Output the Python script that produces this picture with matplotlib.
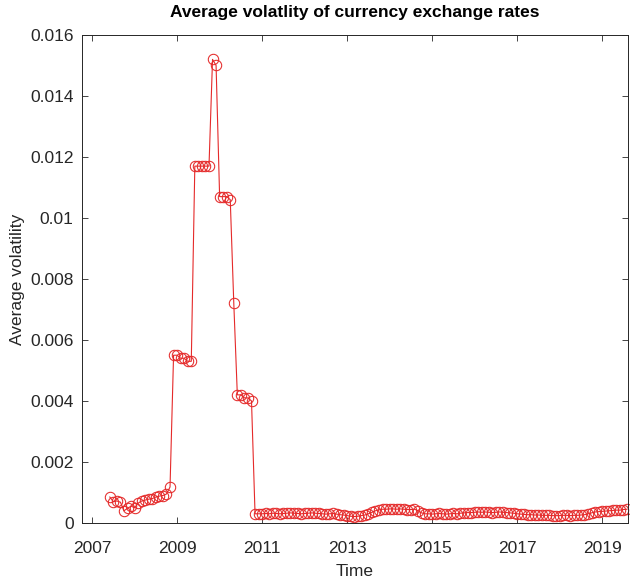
import matplotlib.pyplot as plt
import numpy as np

# monthly average volatility, starting June 2007
start_year = 2007 + 5 / 12
vol_2007_2010 = [
    0.00085, 0.00070, 0.00072, 0.00068, 0.00040, 0.00048, 0.00055,  # Jun-Dec 07
    0.00050, 0.00065, 0.00072, 0.00075, 0.00078, 0.00080, 0.00085,
    0.00088, 0.00090, 0.00095, 0.00118, 0.0055,                       # 2008
    0.0055, 0.0054, 0.0054, 0.0053, 0.0053, 0.0117, 0.0117, 0.0117,
    0.0117, 0.0117, 0.0152, 0.0150,                                   # 2009
    0.0107, 0.0107, 0.0107, 0.0106, 0.0072, 0.0042, 0.0042, 0.0041,
    0.0041, 0.0040, 0.00030, 0.00030,                                 # 2010
]
vol_2011 = [0.00030, 0.00031, 0.00030, 0.00032, 0.00031, 0.00030,
            0.00031, 0.00032, 0.00033, 0.00032, 0.00031, 0.00030]
vol_2012 = [0.00031, 0.00032, 0.00033, 0.00032, 0.00031, 0.00030,
            0.00029, 0.00030, 0.00031, 0.00029, 0.00027, 0.00026]
vol_2013 = [0.00024, 0.00022, 0.00021, 0.00022, 0.00024, 0.00026,
            0.00030, 0.00035, 0.00040, 0.00043, 0.00045, 0.00045]
vol_2014 = [0.00046, 0.00046, 0.00045, 0.00046, 0.00045, 0.00044,
            0.00044, 0.00045, 0.00040, 0.00033, 0.00030, 0.00030]
vol_2015 = [0.00029, 0.00030, 0.00031, 0.00030, 0.00029, 0.00030,
            0.00031, 0.00030, 0.00032, 0.00033, 0.00034, 0.00034]
vol_2016 = [0.00035, 0.00036, 0.00035, 0.00036, 0.00035, 0.00034,
            0.00035, 0.00036, 0.00035, 0.00034, 0.00033, 0.00032]
vol_2017 = [0.00030, 0.00029, 0.00028, 0.00027, 0.00027, 0.00026,
            0.00026, 0.00025, 0.00025, 0.00025, 0.00024, 0.00024]
vol_2018 = [0.00024, 0.00025, 0.00025, 0.00024, 0.00025, 0.00025,
            0.00026, 0.00027, 0.00030, 0.00033, 0.00036, 0.00037]
vol_2019 = [0.00038, 0.00039, 0.00040, 0.00041, 0.00042, 0.00042,
            0.00044, 0.00045]

x_ticks = [2007, 2009, 2011, 2013, 2015, 2017, 2019]
y_ticks = [0, 0.002, 0.004, 0.006, 0.008, 0.01, 0.012, 0.014, 0.016]
y_ticklabels = ["0", "0.002", "0.004", "0.006", "0.008", "0.01",
                "0.012", "0.014", "0.016"]

vol = np.array(vol_2007_2010 + vol_2011 + vol_2012 + vol_2013 + vol_2014
               + vol_2015 + vol_2016 + vol_2017 + vol_2018 + vol_2019)
t = start_year + np.arange(len(vol)) / 12

plt.rcParams["font.family"] = ["Liberation Sans", "DejaVu Sans"]

fig = plt.figure(figsize=(6.3, 5.83), dpi=100)
ax = fig.add_axes([0.130, 0.103, 0.867, 0.837])

ax.plot(t, vol, color="#e52a2a", linewidth=0.8, marker="o", markersize=7.5,
        markerfacecolor="none", markeredgewidth=0.75, clip_on=False)

ax.set_xlim(2006.76, 2019.61)
ax.set_ylim(0, 0.016)
ax.set_xticks(x_ticks)
ax.set_yticks(y_ticks)
ax.set_yticklabels(y_ticklabels)

ax.tick_params(direction="in", length=4, width=0.6, top=True, right=True,
               labelsize=12.5, colors="#262626")
ax.tick_params(axis="x", pad=13)
ax.tick_params(axis="y", pad=6)
for side in ax.spines.values():
    side.set_linewidth(0.7)
    side.set_color("#262626")

ax.set_title("Average volatlity of currency exchange rates",
             fontsize=12.5, fontweight="bold", pad=13)
ax.set_xlabel("Time", fontsize=12.5, color="#262626", labelpad=6)
ax.set_ylabel("Average volatility", fontsize=12.5, color="#262626", labelpad=4)

fig.savefig("out.png", dpi=100)
